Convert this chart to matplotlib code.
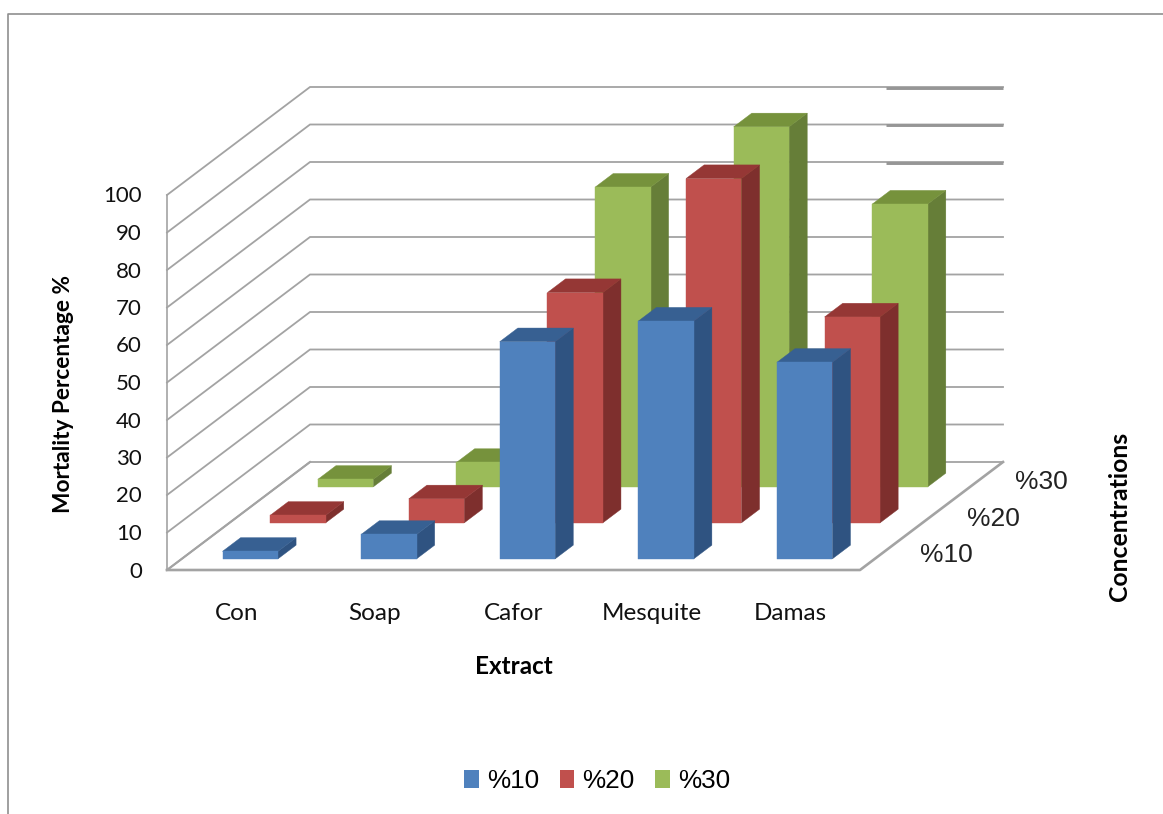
"""
Clustered 3-D style column chart of mortality per extract and concentration.
The oblique box is projected by hand onto a flat axes so the walls, floor and
columns can be layered back to front.
"""

import matplotlib
matplotlib.use("Agg")
import matplotlib.pyplot as plt
from matplotlib.patches import Patch, Polygon

EXTRACTS = ["Con", "Soap", "Cafor", "Mesquite", "Damas"]
CONCENTRATIONS = ["%10", "%20", "%30"]
MORTALITY_10 = [2, 6.5, 57.9, 63.4, 52.4]
MORTALITY_20 = [2, 6.4, 61.4, 91.8, 54.9]
MORTALITY_30 = [2, 6.5, 79.9, 96.0, 75.4]
Y_TICKS = [0, 10, 20, 30, 40, 50, 60, 70, 80, 90, 100]

FACE = ["#4f81bd", "#c0504d", "#9bbb59"]
TOP = ["#376092", "#953735", "#76923c"]
SIDE = ["#2f5381", "#7e2f2d", "#667e38"]
GRID = "#a3a3a3"
FRAME = "#8f8f8f"
SANS = "Lato"
ARIAL = "Liberation Sans"

# projection of the box, in figure pixels
X0, Y0 = 167, 570
CAT_W = 138.6
ROW_DX, ROW_DY = 47.67, 36
PX_PER_UNIT = 3.75
BAR_W = 0.40
BAR_CENTER = 0.494
BAR_D = (0.31, 0.69)


def project(cat, row, value=0):
    """Category position, row depth and value -> pixel position."""
    return (X0 + cat * CAT_W + row * ROW_DX,
            Y0 - row * ROW_DY - value * PX_PER_UNIT)


def draw_bar(ax, cat, row, value):
    left = cat + BAR_CENTER - BAR_W / 2
    right = cat + BAR_CENTER + BAR_W / 2
    near, far = row + BAR_D[0], row + BAR_D[1]
    faces = [
        ([(right, near, 0), (right, far, 0), (right, far, value), (right, near, value)], SIDE[row]),
        ([(left, near, value), (right, near, value), (right, far, value), (left, far, value)], TOP[row]),
        ([(left, near, 0), (right, near, 0), (right, near, value), (left, near, value)], FACE[row]),
    ]
    for corners, color in faces:
        pts = [project(*c) for c in corners]
        ax.add_patch(Polygon(pts, closed=True, facecolor=color, edgecolor=color,
                             linewidth=0.3, zorder=3))


def main():
    fig = plt.figure(figsize=(11.63, 8.14), dpi=100)
    ax = fig.add_axes([0, 0, 1, 1])
    ax.set_xlim(0, 1163)
    ax.set_ylim(814, 0)
    ax.axis("off")

    n_cat, n_row = len(EXTRACTS), len(CONCENTRATIONS)

    # outer frame: only the top and left sides show
    ax.plot([7.5, 7.5, 1163], [814, 14, 14], color=FRAME, lw=1.2, zorder=1)

    # walls
    for tick in Y_TICKS:
        x, y = zip(project(0, 0, tick), project(0, n_row, tick), project(n_cat, n_row, tick))
        ax.plot(x, y, color=GRID, lw=1.3, zorder=1, solid_joinstyle="miter")
    x, y = zip(project(0, 0, 0), project(0, 0, Y_TICKS[-1]))
    ax.plot(x, y, color=GRID, lw=1.2, zorder=1)

    # the upper gridlines get heavier towards the right edge
    for tick in Y_TICKS[-3:]:
        x = [project(n_cat, n_row)[0] - 117, project(n_cat, n_row)[0]]
        y = [project(n_cat, n_row, tick)[1] + 0.5] * 2
        ax.plot(x, y, color="#969696", lw=2.1, zorder=1, solid_capstyle="butt")

    # floor outline
    x, y = zip(project(0, 0), project(n_cat, 0), project(n_cat, n_row))
    ax.plot(x, y, color=GRID, lw=1.9, zorder=2)
    x, y = zip(project(0, 0), project(0, n_row))
    ax.plot(x, y, color=GRID, lw=1.5, zorder=2)

    # columns, rear row first
    series = [MORTALITY_10, MORTALITY_20, MORTALITY_30]
    for row in range(n_row - 1, -1, -1):
        for cat, value in enumerate(series[row]):
            draw_bar(ax, cat, row, value)

    # value axis labels
    for tick in Y_TICKS:
        ax.text(142, project(0, 0, tick)[1] + 1.5, str(tick), ha="right", va="center",
                family=SANS, fontsize=16, color="#111111")

    # extract labels
    for i, name in enumerate(EXTRACTS):
        x = project(i + 0.5, 0)[0]
        ax.text(x, 613, name, ha="center", va="center", family=SANS,
                fontsize=17.5, color="#111111")

    # depth axis labels
    for i, name in enumerate(CONCENTRATIONS):
        ax.text(946 + i * 47.5, 555 - i * 36.5, name, ha="center", va="center",
                family=ARIAL, fontsize=19, color="#222222")

    # axis titles
    ax.text(63.5, 394, "Mortality Percentage %", rotation=90, ha="center", va="center",
            family=SANS, fontweight="bold", fontsize=16.3)
    ax.text(514, 666, "Extract", ha="center", va="center", family=SANS,
            fontweight="bold", fontsize=17.5)
    ax.text(1119, 516, "Concentrations", rotation=90, ha="center", va="center",
            family=SANS, fontweight="bold", fontsize=17.8)

    # legend
    handles = [Patch(facecolor=c, label=n) for c, n in zip(FACE, CONCENTRATIONS)]
    ax.legend(handles=handles, ncol=3, frameon=False, loc="center",
              bbox_to_anchor=(597 / 1163, 1 - 781 / 814),
              prop={"family": ARIAL, "size": 18.8},
              handlelength=0.56, handleheight=0.72, handletextpad=0.3,
              columnspacing=0.8, borderpad=0)

    fig.savefig("out.png", dpi=100, facecolor="white")
    plt.close(fig)


if __name__ == "__main__":
    main()
